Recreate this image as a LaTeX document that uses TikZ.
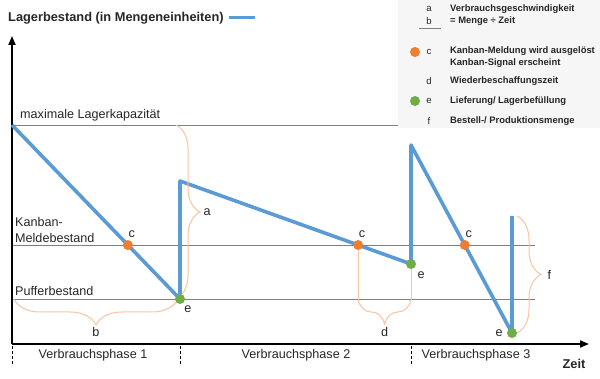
\documentclass[tikz,border=0pt]{standalone}
\usepackage{fontspec}
\setmainfont{Liberation Sans}
\usetikzlibrary{arrows.meta,positioning,decorations.pathreplacing}
\definecolor{kblue}{HTML}{5B9BD5}
\definecolor{korange}{HTML}{ED7D31}
\definecolor{kgreen}{HTML}{70AD47}
\definecolor{kbrace}{HTML}{F8C3A0}
\definecolor{klegend}{HTML}{F6F6F6}
\begin{document}
\begin{tikzpicture}[x=1pt,y=-1pt,
  every node/.style={font=\fontsize{12.6}{16}\selectfont,inner sep=1pt,text=black!85},
  axis/.style={draw=black,line width=1.8pt,-{Triangle[length=9pt,width=7pt]}},
  level/.style={draw=black!50,line width=0.7pt},
  stock/.style={draw=kblue,line width=3.6pt,line join=round},
  signal/.style={circle,fill=korange,minimum size=10pt,inner sep=0pt},
  delivery/.style={circle,fill=kgreen,minimum size=10pt,inner sep=0pt},
  curly/.style={draw=kbrace,line width=1pt,decorate,decoration={brace,amplitude=#1}},
  phasetick/.style={draw=black,line width=1pt,dash pattern=on 3pt off 2pt},
  legtext/.style={font=\fontsize{9.4}{11.5}\selectfont\bfseries,align=left,anchor=west},
  legkey/.style={font=\fontsize{9.6}{11}\selectfont}]

  \useasboundingbox (0,0) rectangle (600,379);
  \fill[klegend] (398,0) rectangle (600,128);

  % levels
  \coordinate (M0) at (12,125);  \coordinate (M1) at (398,125);
  \coordinate (K0) at (12,245);  \coordinate (K1) at (535,245);
  \coordinate (B0) at (12,299);  \coordinate (B1) at (535,299);
  \draw[level] (M0) -- (M1);
  \draw[level] (K0) -- (K1);
  \draw[level] (B0) -- (B1);
  \node[anchor=west] (maxlbl) at (19,115) {maximale Lagerkapazität};
  \node[anchor=west,align=left] (kanlbl) at (14,230) {Kanban-\\Meldebestand};
  \node[anchor=west] (puflbl) at (14,291) {Pufferbestand};

  % axes
  \coordinate (O) at (12,344);
  \coordinate (Y) at (12,36);
  \coordinate (X) at (589,344);
  \draw[axis] (O) -- (Y);
  \draw[axis] (O) -- (X);
  \node[font=\fontsize{12.8}{14}\selectfont\bfseries,anchor=west] (ylbl) at (7,18) {Lagerbestand (in Mengeneinheiten)};
  \draw[kblue,line width=3pt] ([xshift=4pt]ylbl.east) -- ([xshift=30pt]ylbl.east);
  \node[font=\fontsize{12.8}{14}\selectfont\bfseries] (xlbl) at (574,364) {Zeit};

  % stock
  \coordinate (P0) at (12,125);
  \coordinate (P1) at (180,299);
  \coordinate (P2) at (180,181);
  \coordinate (P3) at (411,264);
  \coordinate (P4) at (411,145);
  \coordinate (P5) at (512,333);
  \coordinate (P6) at (512,216);
  \draw[stock] (P0) -- (P1) -- (P2) -- (P3) -- (P4) -- (P5) -- (P6);

  % braces
  \draw[curly=24pt] (176,125) -- (176,299) node[midway,right=26pt] (alabel) {a};
  \draw[curly=26pt,decoration={mirror}] (14,299) -- (178,299) node[midway,below=27pt] (blabel) {b};
  \draw[curly=24pt] (517,216) -- (517,333) node[midway,right=29pt] (flabel) {f};

  \node[signal] (sig1) at (intersection of P0--P1 and K0--K1) {};
  \node[signal] (sig2) at (intersection of P2--P3 and K0--K1) {};
  \node[signal] (sig3) at (intersection of P4--P5 and K0--K1) {};
  \node[delivery] (del1) at (P1) {};
  \node[delivery] (del2) at (P3) {};
  \node[delivery] (del3) at (P5) {};

  \coordinate (dL) at (sig2 |- 0,300);
  \coordinate (dR) at (del2 |- 0,300);
  \draw[draw=kbrace,line width=1pt] (sig2) -- (dL);
  \draw[draw=kbrace,line width=1pt] (del2) -- (dR);
  \draw[curly=24pt,decoration={mirror}] (dL) -- (dR) node[midway,below=26pt] (dlabel) {d};

  \node[above=1pt of sig1,xshift=4pt] {c};
  \node[above=1pt of sig2,xshift=4pt] {c};
  \node[above=1pt of sig3,xshift=4pt] {c};
  \node[below=0pt of del1,xshift=8pt] {e};
  \node[below=1pt of del2,xshift=10pt] {e};
  \node[left=3pt of del3] {e};

  % phases
  \foreach \t/\n in {12/t1,180/t2,411/t3}
    \draw[phasetick] (\t,346) -- (\t,364);
  \node (ph1) at (93,355) {Verbrauchsphase 1};
  \node (ph2) at (296,355) {Verbrauchsphase 2};
  \node (ph3) at (476,355) {Verbrauchsphase 3};

  % legend
  \node[legkey] (ka) at (429,9) {a};
  \node[legkey] (kb) at (429,21) {b};
  \draw[black!50,line width=0.8pt] (419,28) -- (441,28);
  \node[legtext] (ta) at (449,15) {Verbrauchsgeschwindigkeit\\= Menge ÷ Zeit};
  \node[signal] (lc) at (415,52) {};
  \node[legkey] (kc) at (429,52) {c};
  \node[legtext] (tc) at (449,57) {Kanban-Meldung wird ausgelöst\\Kanban-Signal erscheint};
  \node[legkey] (kd) at (429,81) {d};
  \node[legtext] (td) at (449,81) {Wiederbeschaffungszeit};
  \node[delivery] (le) at (415,101) {};
  \node[legkey] (ke) at (429,101) {e};
  \node[legtext] (te) at (449,101) {Lieferung/ Lagerbefüllung};
  \node[legkey] (kf) at (429,121) {f};
  \node[legtext] (tf) at (449,121) {Bestell-/ Produktionsmenge};
\end{tikzpicture}
\end{document}
